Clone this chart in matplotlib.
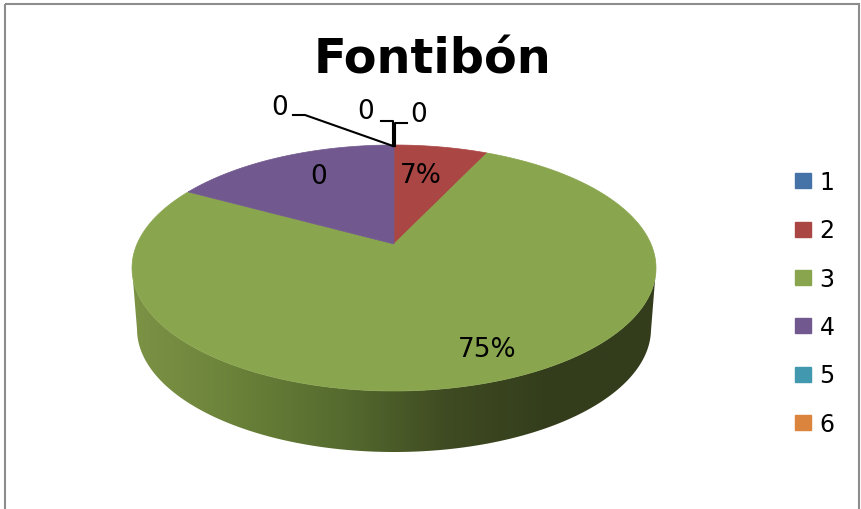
import numpy as np
import matplotlib
matplotlib.use("Agg")
from matplotlib import pyplot as plt
from matplotlib.colors import LinearSegmentedColormap
from matplotlib.patches import Patch, PathPatch, Rectangle
from matplotlib.path import Path

categories = ["1", "2", "3", "4", "5", "6"]
values = [0, 7, 76, 17, 0, 0]
labels = ["0", "7%", "75%", "0", "0", "0"]
colors = ["#4572A7", "#AA4643", "#89A54E", "#71588F", "#4198AF", "#DB843D"]
wall_colors = ["#7C9346", "#6A8139", "#556B2F", "#3F4B22", "#333D1C", "#333D1C"]

# pie geometry in pixels, tilted look comes from the apex sitting above the ellipse centre
cx, cy = 394, 269
rx, ry = 262, 123
apex_y = 245
depth = 61
a = (cy - apex_y) / ry


def project(theta):
    # theta clockwise from 12 o'clock, perspective map of the unit circle
    u, v = np.sin(theta), np.cos(theta)
    d = 1 + a * v
    x = u * np.sqrt(1 - a * a) / d
    y = (v + a) / d
    return cx + rx * x, cy - ry * y


fig = plt.figure(figsize=(8.61, 5.1), dpi=100)
ax = fig.add_axes([0, 0, 1, 1])
ax.set_xlim(0, 861)
ax.set_ylim(510, 0)
ax.axis("off")

# side wall of the pie
t = np.linspace(0, np.pi, 200)
top_x, top_y = cx + rx * np.cos(t), cy + ry * np.sin(t)
bot_x, bot_y = cx + (rx - 5) * np.cos(t), cy + depth + ry * np.sin(t)
wall = np.vstack([np.column_stack([top_x, top_y]), np.column_stack([bot_x, bot_y])[::-1]])
cmap = LinearSegmentedColormap.from_list("wall", wall_colors)
im = ax.imshow(np.linspace(0, 1, 256).reshape(1, -1), cmap=cmap, aspect="auto",
               extent=[cx - rx, cx + rx, cy + depth + ry, cy - 10], zorder=1)
clip = PathPatch(Path(wall, closed=True), transform=ax.transData, fc="none", ec="none")
ax.add_patch(clip)
im.set_clip_path(clip)
ax.set_xlim(0, 861)
ax.set_ylim(510, 0)

# top face slices
total = sum(values)
start = 0
for val, col in zip(values, colors):
    if val > 0:
        th = np.linspace(start, start + val / total * 2 * np.pi, 200)
        x, y = project(th)
        ax.fill(np.r_[cx, x], np.r_[apex_y, y], color=col, lw=0.5, zorder=2)
    start += val / total * 2 * np.pi

# leader lines for the zero slices
ax.plot([293, 305, 393], [116, 116, 147], color="black", lw=1.5, zorder=3)
ax.plot([381, 393, 393], [122, 122, 147], color="black", lw=1.5, zorder=3)
ax.plot([407, 395, 395], [124, 124, 147], color="black", lw=1.5, zorder=3)

ax.text(280, 108, labels[0], fontsize=19, ha="center", va="center", zorder=4)
ax.text(421, 176, labels[1], fontsize=19, ha="center", va="center", zorder=4)
ax.text(487, 350, labels[2], fontsize=19, ha="center", va="center", zorder=4)
ax.text(319, 177, labels[3], fontsize=19, ha="center", va="center", zorder=4)
ax.text(366, 112, labels[4], fontsize=19, ha="center", va="center", zorder=4)
ax.text(419, 115, labels[5], fontsize=19, ha="center", va="center", zorder=4)

ax.text(433, 60, "Fontibón", fontsize=34.5, fontweight="bold", ha="center", va="center")

handles = [Patch(color=c) for c in colors]
ax.legend(handles, categories, loc="upper left", bbox_to_anchor=(788, 164),
          bbox_transform=ax.transData, frameon=False, fontsize=17,
          handlelength=0.68, handleheight=0.6, handletextpad=0.35, labelspacing=1.03,
          borderpad=0.3, borderaxespad=0)

ax.add_patch(Rectangle((5, 5), 854, 520, fc="none", ec="#8C8C8C", lw=1.5, zorder=5))

fig.savefig("out.png", dpi=100)
